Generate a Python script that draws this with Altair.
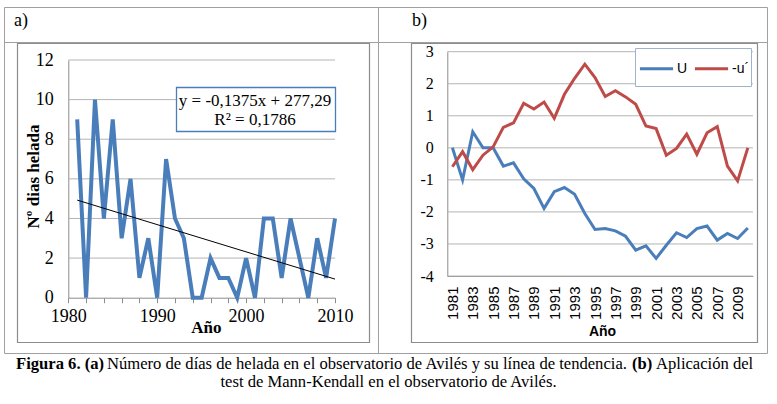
import altair as alt
import pandas as pd

# ---------------- data ----------------
years = list(range(1981, 2011))
frost_days = [9, 0, 10, 4, 9, 3, 6, 1, 3, 0, 7, 4, 3, 0, 0, 2, 1, 1, 0, 2,
              0, 4, 4, 1, 4, 2, 0, 3, 1, 4]
u_values = [0.0, -1.0, 0.5, 0.0, 0.0, -0.57, -0.47, -0.97, -1.27, -1.89,
            -1.37, -1.24, -1.45, -2.05, -2.55, -2.52, -2.59, -2.76, -3.19, -3.06,
            -3.45, -3.04, -2.65, -2.80, -2.52, -2.44, -2.88, -2.67, -2.83, -2.50]
neg_u_prime = [-0.59, -0.12, -0.68, -0.23, 0.03, 0.64, 0.78, 1.39, 1.21, 1.43,
               0.92, 1.67, 2.17, 2.61, 2.19, 1.60, 1.78, 1.59, 1.36, 0.68,
               0.60, -0.23, -0.02, 0.43, -0.20, 0.47, 0.66, -0.57, -1.03, 0.0]
series_names = ["U", "-u\u00b4"]
a_y_ticks = [0, 2, 4, 6, 8, 10, 12]
a_x_ticks = list(range(1980, 2011, 2))
b_y_ticks = [-4, -3, -2, -1, 0, 1, 2, 3]
b_x_ticks = list(range(1981, 2010, 2))

df_a = pd.DataFrame({"year": years, "days": frost_days})
df_b = pd.DataFrame({
    "year": years * 2,
    "value": u_values + neg_u_prime,
    "series": [series_names[0]] * len(years) + [series_names[1]] * len(years),
})
df_grid_a = pd.DataFrame({"v": a_y_ticks[1:]})
df_grid_b = pd.DataFrame({"v": b_y_ticks})
one = pd.DataFrame({"k": [0]})

BLUE = "#4A7EBB"
RED = "#BE4B48"
GRID = "#B4B4B4"
AXIS = "#8C8C8C"
SERIF = "Liberation Serif"
SANS = "Liberation Sans"
W, H = 777, 404

# ---------------- scales ----------------
def xa():
    return alt.Scale(domain=[1980, 2010], range=[68.3, 335], nice=False, zero=False)
def ya():
    return alt.Scale(domain=[0, 12], range=[297.7, 60], nice=False, zero=False)
def xb():
    return alt.Scale(domain=[1980.5, 2010.5], range=[447.3, 752.9], nice=False, zero=False)
def yb():
    return alt.Scale(domain=[-4, 3], range=[276, 51.7], nice=False, zero=False)

# ---------------- decoration helpers ----------------
def rect(x, x2, y, y2, stroke, fill="white", fo=0.0, sw=1.0):
    return alt.Chart(one).mark_rect(stroke=stroke, strokeWidth=sw, fill=fill,
                                    fillOpacity=fo).encode(
        x=alt.value(x), x2=alt.value(x2), y=alt.value(y), y2=alt.value(y2))

def rule(x, x2, y, y2, color, sw=1.0):
    return alt.Chart(one).mark_rule(color=color, strokeWidth=sw).encode(
        x=alt.value(x), x2=alt.value(x2), y=alt.value(y), y2=alt.value(y2))

def txt(text, x, y, size, font=SERIF, weight="normal", align="left",
        baseline="alphabetic"):
    return alt.Chart(one).mark_text(text=text, font=font, fontSize=size,
                                    fontWeight=weight, align=align,
                                    baseline=baseline, color="black").encode(
        x=alt.value(x), y=alt.value(y))

# table and frames
table = rect(4.5, 767.5, 7.5, 353.5, "#A0A0A0")
header_line = rule(4.5, 767.5, 42.5, 42.5, "#A0A0A0")
mid_line = rule(378.5, 378.5, 7.5, 353.5, "#A0A0A0")
frame_a = rect(17.5, 369.5, 43.5, 342.5, AXIS, sw=1.2)
frame_b = rect(411.5, 757.5, 43.5, 342.5, AXIS, sw=1.2)
lab_a = txt("a)", 14, 26, 18)
lab_b = txt("b)", 412, 26, 18)

# ---------------- panel a ----------------
grid_a = alt.Chart(df_grid_a).mark_rule(color=GRID, strokeWidth=1).encode(
    y=alt.Y("v:Q", scale=ya(), axis=None),
    x=alt.value(68.3), x2=alt.value(335))

line_a = alt.Chart(df_a).mark_line(color=BLUE, strokeWidth=4).encode(
    x=alt.X("year:Q", scale=xa(), axis=alt.Axis(
        orient="bottom", offset=297.7 - H, values=a_x_ticks,
        labelExpr="datum.value % 10 == 0 ? '' + datum.value : ''",
        grid=False, domainColor=AXIS, tickColor=AXIS, tickSize=5,
        labelFont=SERIF, labelFontSize=18, labelColor="black", labelPadding=5,
        labelOverlap=False, labelFlush=False, labelBound=False,
        title="Año", titleFont=SERIF, titleFontSize=17, titleFontWeight="bold",
        titleColor="black", titleX=205.8, titleY=35,
        titleBaseline="alphabetic", titleAlign="center")),
    y=alt.Y("days:Q", scale=ya(), axis=alt.Axis(
        orient="left", offset=-68.3, values=a_y_ticks, grid=False, ticks=False,
        domainColor=AXIS, labelFont=SERIF, labelFontSize=18, labelColor="black",
        labelPadding=15, labelExpr="'' + datum.value",
        title="Nº dias helada", titleFont=SERIF, titleFontSize=17,
        titleFontWeight="bold", titleColor="black", titleX=-35.3, titleY=176,
        titleAngle=270, titleAlign="center", titleBaseline="middle")))

trend_a = alt.Chart(df_a).transform_regression("year", "days").mark_line(
    color="black", strokeWidth=1).encode(
    x=alt.X("year:Q", scale=xa(), axis=None),
    y=alt.Y("days:Q", scale=ya(), axis=None))

eq_box = rect(176.5, 335.5, 87.5, 131.5, "#4A7EBB", fo=1.0, sw=1.3)
eq1 = txt("y = -0,1375x + 277,29", 255, 106, 17, align="center")
eq2 = txt("R² = 0,1786", 255, 125, 17, align="center")

# ---------------- panel b ----------------
grid_b = alt.Chart(df_grid_b).mark_rule(color=GRID, strokeWidth=1).encode(
    y=alt.Y("v:Q", scale=yb(), axis=None),
    x=alt.value(447.3), x2=alt.value(752.9))

legend_box = rect(635.5, 751.5, 48.5, 86.5, "#9FB3CC", fo=1.0, sw=1)

line_b = alt.Chart(df_b).mark_line(strokeWidth=3).encode(
    x=alt.X("year:Q", scale=xb(), axis=alt.Axis(
        orient="bottom", offset=276 - H, values=b_x_ticks, format="d",
        labelAngle=270, ticks=False, tickSize=0, grid=False, domainColor=AXIS,
        labelFont=SANS, labelFontSize=15, labelColor="black", labelPadding=10,
        labelOverlap=False, labelFlush=False, labelBound=False,
        title="Año", titleFont=SANS, titleFontSize=14, titleFontWeight="bold",
        titleColor="black", titleX=602, titleY=59, titleBaseline="alphabetic",
        titleAlign="center")),
    y=alt.Y("value:Q", scale=yb(), axis=alt.Axis(
        orient="left", offset=-447.3, values=b_y_ticks, grid=False, ticks=False,
        domainColor=AXIS, labelFont=SERIF, labelFontSize=16, labelColor="black",
        labelPadding=14, labelExpr="'' + datum.value", title=None)),
    color=alt.Color("series:N", scale=alt.Scale(domain=series_names, range=[BLUE, RED]),
                    legend=alt.Legend(orient="none", legendX=638, legendY=50,
                                      direction="horizontal", title=None,
                                      symbolType="stroke", symbolSize=1100,
                                      symbolStrokeWidth=3, labelFont=SANS,
                                      labelFontSize=14, labelColor="black",
                                      labelOffset=2, columnPadding=0, padding=0)),
    detail="series:N")

# ---------------- caption ----------------
CAP = 16.6
cap1a = txt("Figura 6. (a)", 16, 369, CAP, weight="bold")
cap1b = txt("Número de días de helada en el observatorio de Avilés y su línea de tendencia.",
            107, 369, CAP)
cap1c = txt("(b)", 632, 369, CAP, weight="bold")
cap1d = txt("Aplicación del", 656, 369, CAP)
cap2 = txt("test de Mann-Kendall en el observatorio de Avilés.", 388.5, 386.5, CAP,
           align="center")

chart = alt.layer(
    table, header_line, mid_line, frame_a, frame_b, lab_a, lab_b,
    grid_a, line_a, trend_a, eq_box, eq1, eq2,
    grid_b, line_b, legend_box,
    cap1a, cap1b, cap1c, cap1d, cap2,
).resolve_scale(
    x="independent", y="independent", color="independent"
).resolve_axis(
    x="independent", y="independent"
).properties(
    width=W, height=H, autosize=alt.AutoSizeParams(type="none"), padding=0,
    background="white"
).configure_view(stroke=None)

chart.save("out.html", embed_options={"renderer": "svg", "actions": False})
